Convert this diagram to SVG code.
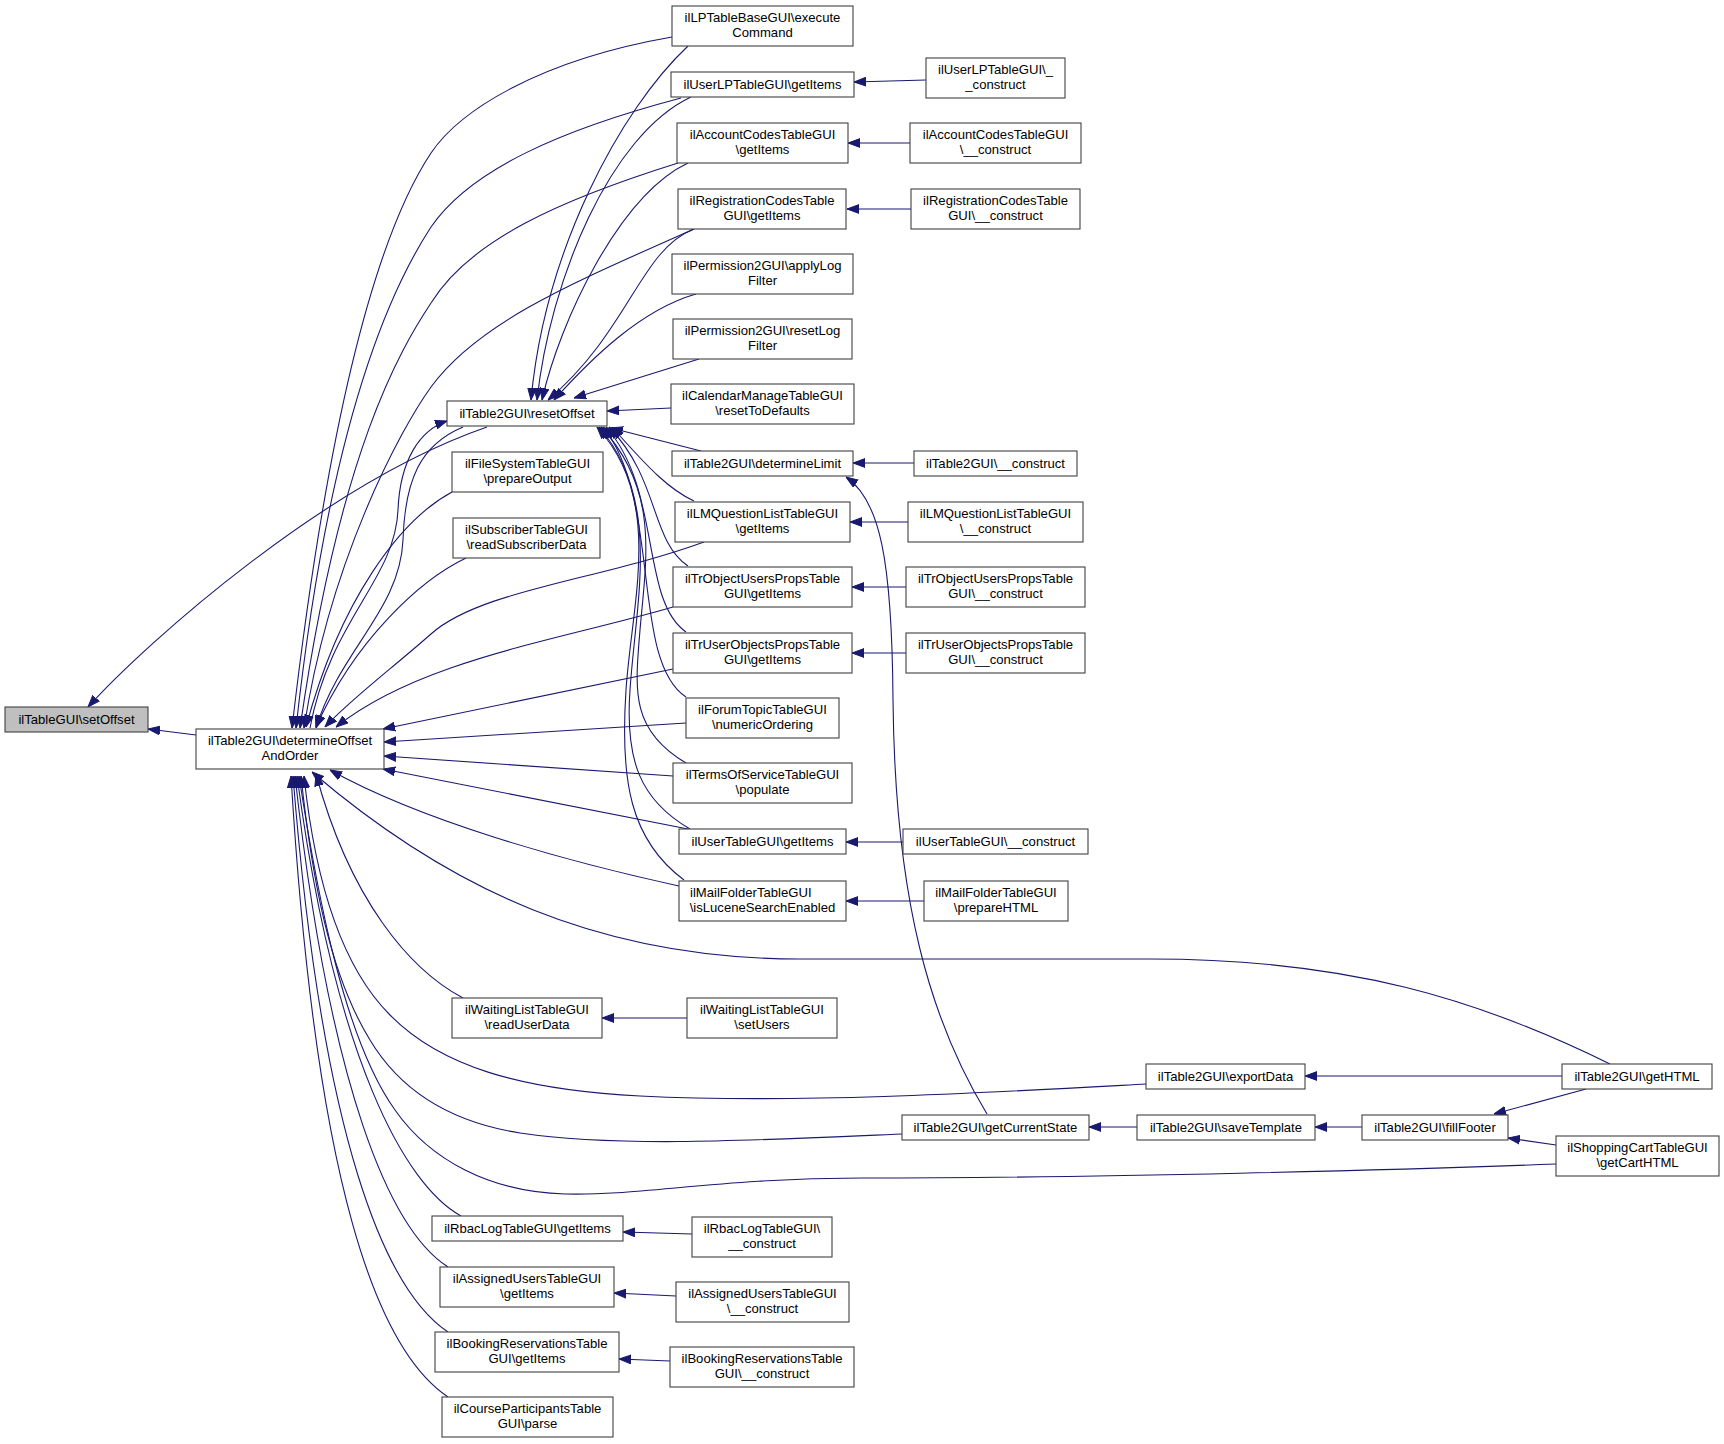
<svg xmlns="http://www.w3.org/2000/svg" width="1724" height="1444" viewBox="0 0 1724 1444">
<style>
.n rect{fill:#fff;stroke:#404040;stroke-width:1.1}
.n.root rect{fill:#bfbfbf}
text{font-family:"Liberation Sans",Arial,Helvetica,sans-serif;font-size:13.1px;text-anchor:middle;fill:#000}
text.l{text-anchor:start}
#edges path{fill:none;stroke:#191970;stroke-width:1.1;marker-end:url(#a)}
</style>
<defs>
<marker id="a" markerUnits="userSpaceOnUse" markerWidth="12" markerHeight="10" viewBox="0 0 12 10" refX="12" refY="5" orient="auto">
<path d="M0,0.6 L12,5 L0,9.4 z" fill="#191970" stroke="#191970" stroke-width="1"/>
</marker>
</defs>
<rect width="1724" height="1444" fill="#fff"/>
<g id="edges">
<path d="M196,735 L148,729"/>
<path d="M487,427 C327,482 148,641 88,707"/>
<path d="M310,728 C330,620 395,580 398,510 C400,460 420,430 447,421"/>
<path d="M463,427 C420,445 405,480 403,540 C400,610 340,650 316,728"/>
<path d="M672,37 C540,60 460,110 431,153 C380,230 330,400 292,728"/>
<path d="M681,98 C560,130 470,170 431,227 C390,290 330,420 296,728"/>
<path d="M678,163 C560,200 470,240 431,303 C400,350 340,450 300,728"/>
<path d="M694,229 C580,280 480,320 431,387 C400,430 330,560 304,728"/>
<path d="M688,46 C620,110 545,250 531,400"/>
<path d="M691,97 C610,135 550,280 537,400"/>
<path d="M688,163 C620,195 560,320 542,400"/>
<path d="M694,229 C640,250 630,330 548,400"/>
<path d="M696,294 C640,310 590,360 554,400"/>
<path d="M699,359 L574,398"/>
<path d="M671,408 L607,411"/>
<path d="M701,451 L611,428"/>
<path d="M694,501 C670,490 650,470 612,427"/>
<path d="M688,566 C650,540 660,480 609,427"/>
<path d="M686,632 C640,600 662,490 606,427"/>
<path d="M686,697 C630,660 662,500 603,427"/>
<path d="M686,763 C630,730 635,690 640,630 C646,560 660,490 601,427"/>
<path d="M690,829 C640,800 625,760 630,690 C636,600 662,500 599,427"/>
<path d="M684,880 C630,840 620,780 626,690 C632,600 664,500 597,427"/>
<path d="M452,492 C400,520 340,600 306,727"/>
<path d="M466,558 C420,580 355,640 316,727"/>
<path d="M704,542 C600,580 480,590 431,634 C390,670 350,700 325,727"/>
<path d="M673,607 C560,640 420,660 336,727"/>
<path d="M673,669 L383,729"/>
<path d="M686,723 L384,742"/>
<path d="M673,776 L384,756"/>
<path d="M688,829 L383,769"/>
<path d="M679,886 C560,860 420,820 330,770"/>
<path d="M1610,1064 C1480,1000 1350,959 1150,959 L800,959 C600,959 450,890 312,772"/>
<path d="M463,998 C410,970 350,900 316,774"/>
<path d="M1146,1084 C1000,1092 800,1104 640,1096 C520,1090 440,1066 390,1015 C340,965 315,880 304,776"/>
<path d="M902,1134 C760,1140 620,1148 520,1133 C450,1122 400,1090 370,1040 C330,975 312,880 301,776"/>
<path d="M1556,1164 C1400,1170 1100,1178 862,1178 C720,1178 640,1196 565,1194 C490,1192 430,1160 395,1110 C345,1040 318,900 299,776"/>
<path d="M461,1216 C405,1185 335,1060 297,776"/>
<path d="M448,1267 C390,1230 330,1090 295,776"/>
<path d="M448,1332 C385,1290 322,1140 293,776"/>
<path d="M448,1397 C378,1350 316,1190 291,776"/>
<path d="M987,1114 C930,1020 895,900 893,700 C892,560 880,500 846,477"/>
<path d="M1562,1076 L1305,1076"/>
<path d="M1586,1089 L1494,1114"/>
<path d="M1556,1145 L1508,1138"/>
<path d="M1362,1127 L1315,1127"/>
<path d="M1137,1127 L1089,1127"/>
<path d="M926,80 L854,82"/>
<path d="M910,143 L848,143"/>
<path d="M911,209 L847,209"/>
<path d="M914,463 L853,463"/>
<path d="M908,522 L850,522"/>
<path d="M906,587 L852,587"/>
<path d="M906,653 L852,653"/>
<path d="M903,842 L846,842"/>
<path d="M924,901 L846,901"/>
<path d="M687,1018 L602,1018"/>
<path d="M692,1234 L623,1232"/>
<path d="M676,1296 L614,1293"/>
<path d="M670,1361 L619,1359"/>
</g>
<g id="n1" class="n root"><rect x="5" y="707" width="143" height="25"/><text x="76.5" y="723.5">ilTableGUI\setOffset</text></g>
<g id="n2" class="n"><rect x="196" y="729" width="188" height="40"/><text x="290" y="745.3">ilTable2GUI\determineOffset</text><text x="290" y="760.3">AndOrder</text></g>
<g id="n3" class="n"><rect x="447" y="401" width="160" height="25"/><text x="527" y="417.5">ilTable2GUI\resetOffset</text></g>
<g id="n4" class="n"><rect x="452" y="452" width="151" height="40"/><text x="527.5" y="468.3">ilFileSystemTableGUI</text><text x="527.5" y="483.3">\prepareOutput</text></g>
<g id="n5" class="n"><rect x="453" y="518" width="147" height="40"/><text x="526.5" y="534.3">ilSubscriberTableGUI</text><text x="526.5" y="549.3">\readSubscriberData</text></g>
<g id="n6" class="n"><rect x="452" y="998" width="150" height="40"/><text x="527" y="1014.3">ilWaitingListTableGUI</text><text x="527" y="1029.3">\readUserData</text></g>
<g id="n7" class="n"><rect x="432" y="1216" width="191" height="25"/><text x="527.5" y="1232.5">ilRbacLogTableGUI\getItems</text></g>
<g id="n8" class="n"><rect x="440" y="1267" width="174" height="40"/><text x="527" y="1283.3">ilAssignedUsersTableGUI</text><text x="527" y="1298.3">\getItems</text></g>
<g id="n9" class="n"><rect x="435" y="1332" width="184" height="40"/><text x="527" y="1348.3">ilBookingReservationsTable</text><text x="527" y="1363.3">GUI\getItems</text></g>
<g id="n10" class="n"><rect x="442" y="1397" width="171" height="40"/><text x="527.5" y="1413.3">ilCourseParticipantsTable</text><text x="527.5" y="1428.3">GUI\parse</text></g>
<g id="n11" class="n"><rect x="672" y="6" width="181" height="40"/><text x="762.5" y="22.3">ilLPTableBaseGUI\execute</text><text x="762.5" y="37.3">Command</text></g>
<g id="n12" class="n"><rect x="671" y="72" width="183" height="25"/><text x="762.5" y="88.5">ilUserLPTableGUI\getItems</text></g>
<g id="n13" class="n"><rect x="677" y="123" width="171" height="40"/><text x="762.5" y="139.3">ilAccountCodesTableGUI</text><text x="762.5" y="154.3">\getItems</text></g>
<g id="n14" class="n"><rect x="678" y="189" width="168" height="40"/><text x="762" y="205.3">ilRegistrationCodesTable</text><text x="762" y="220.3">GUI\getItems</text></g>
<g id="n15" class="n"><rect x="672" y="254" width="181" height="40"/><text x="762.5" y="270.3">ilPermission2GUI\applyLog</text><text x="762.5" y="285.3">Filter</text></g>
<g id="n16" class="n"><rect x="673" y="319" width="179" height="40"/><text x="762.5" y="335.3">ilPermission2GUI\resetLog</text><text x="762.5" y="350.3">Filter</text></g>
<g id="n17" class="n"><rect x="671" y="384" width="183" height="40"/><text x="762.5" y="400.3">ilCalendarManageTableGUI</text><text x="762.5" y="415.3">\resetToDefaults</text></g>
<g id="n18" class="n"><rect x="672" y="451" width="181" height="25"/><text x="762.5" y="467.5">ilTable2GUI\determineLimit</text></g>
<g id="n19" class="n"><rect x="675" y="502" width="175" height="40"/><text x="762.5" y="518.3">ilLMQuestionListTableGUI</text><text x="762.5" y="533.3">\getItems</text></g>
<g id="n20" class="n"><rect x="673" y="567" width="179" height="40"/><text x="762.5" y="583.3">ilTrObjectUsersPropsTable</text><text x="762.5" y="598.3">GUI\getItems</text></g>
<g id="n21" class="n"><rect x="673" y="633" width="179" height="40"/><text x="762.5" y="649.3">ilTrUserObjectsPropsTable</text><text x="762.5" y="664.3">GUI\getItems</text></g>
<g id="n22" class="n"><rect x="686" y="698" width="153" height="40"/><text x="762.5" y="714.3">ilForumTopicTableGUI</text><text x="762.5" y="729.3">\numericOrdering</text></g>
<g id="n23" class="n"><rect x="673" y="763" width="179" height="40"/><text x="762.5" y="779.3">ilTermsOfServiceTableGUI</text><text x="762.5" y="794.3">\populate</text></g>
<g id="n24" class="n"><rect x="679" y="829" width="167" height="25"/><text x="762.5" y="845.5">ilUserTableGUI\getItems</text></g>
<g id="n25" class="n"><rect x="679" y="881" width="167" height="40"/><text class="l" x="690" y="897.3">ilMailFolderTableGUI</text><text x="762.5" y="912.3">\isLuceneSearchEnabled</text></g>
<g id="n26" class="n"><rect x="926" y="58" width="139" height="40"/><text x="995.5" y="74.3">ilUserLPTableGUI\_</text><text x="995.5" y="89.3">_construct</text></g>
<g id="n27" class="n"><rect x="910" y="123" width="171" height="40"/><text x="995.5" y="139.3">ilAccountCodesTableGUI</text><text x="995.5" y="154.3">\__construct</text></g>
<g id="n28" class="n"><rect x="911" y="189" width="169" height="40"/><text x="995.5" y="205.3">ilRegistrationCodesTable</text><text x="995.5" y="220.3">GUI\__construct</text></g>
<g id="n29" class="n"><rect x="914" y="451" width="163" height="25"/><text x="995.5" y="467.5">ilTable2GUI\__construct</text></g>
<g id="n30" class="n"><rect x="908" y="502" width="175" height="40"/><text x="995.5" y="518.3">ilLMQuestionListTableGUI</text><text x="995.5" y="533.3">\__construct</text></g>
<g id="n31" class="n"><rect x="906" y="567" width="179" height="40"/><text x="995.5" y="583.3">ilTrObjectUsersPropsTable</text><text x="995.5" y="598.3">GUI\__construct</text></g>
<g id="n32" class="n"><rect x="906" y="633" width="179" height="40"/><text x="995.5" y="649.3">ilTrUserObjectsPropsTable</text><text x="995.5" y="664.3">GUI\__construct</text></g>
<g id="n33" class="n"><rect x="903" y="829" width="185" height="25"/><text x="995.5" y="845.5">ilUserTableGUI\__construct</text></g>
<g id="n34" class="n"><rect x="924" y="881" width="144" height="40"/><text x="996" y="897.3">ilMailFolderTableGUI</text><text x="996" y="912.3">\prepareHTML</text></g>
<g id="n35" class="n"><rect x="687" y="998" width="150" height="40"/><text x="762" y="1014.3">ilWaitingListTableGUI</text><text x="762" y="1029.3">\setUsers</text></g>
<g id="n36" class="n"><rect x="692" y="1217" width="140" height="40"/><text x="762" y="1233.3">ilRbacLogTableGUI\</text><text x="762" y="1248.3">__construct</text></g>
<g id="n37" class="n"><rect x="676" y="1282" width="173" height="40"/><text x="762.5" y="1298.3">ilAssignedUsersTableGUI</text><text x="762.5" y="1313.3">\__construct</text></g>
<g id="n38" class="n"><rect x="670" y="1347" width="184" height="40"/><text x="762" y="1363.3">ilBookingReservationsTable</text><text x="762" y="1378.3">GUI\__construct</text></g>
<g id="n39" class="n"><rect x="1146" y="1064" width="159" height="25"/><text x="1225.5" y="1080.5">ilTable2GUI\exportData</text></g>
<g id="n40" class="n"><rect x="902" y="1115" width="187" height="25"/><text x="995.5" y="1131.5">ilTable2GUI\getCurrentState</text></g>
<g id="n41" class="n"><rect x="1137" y="1115" width="178" height="25"/><text x="1226" y="1131.5">ilTable2GUI\saveTemplate</text></g>
<g id="n42" class="n"><rect x="1362" y="1115" width="146" height="25"/><text x="1435" y="1131.5">ilTable2GUI\fillFooter</text></g>
<g id="n43" class="n"><rect x="1562" y="1064" width="150" height="25"/><text x="1637" y="1080.5">ilTable2GUI\getHTML</text></g>
<g id="n44" class="n"><rect x="1556" y="1136" width="163" height="40"/><text x="1637.5" y="1152.3">ilShoppingCartTableGUI</text><text x="1637.5" y="1167.3">\getCartHTML</text></g>
</svg>
